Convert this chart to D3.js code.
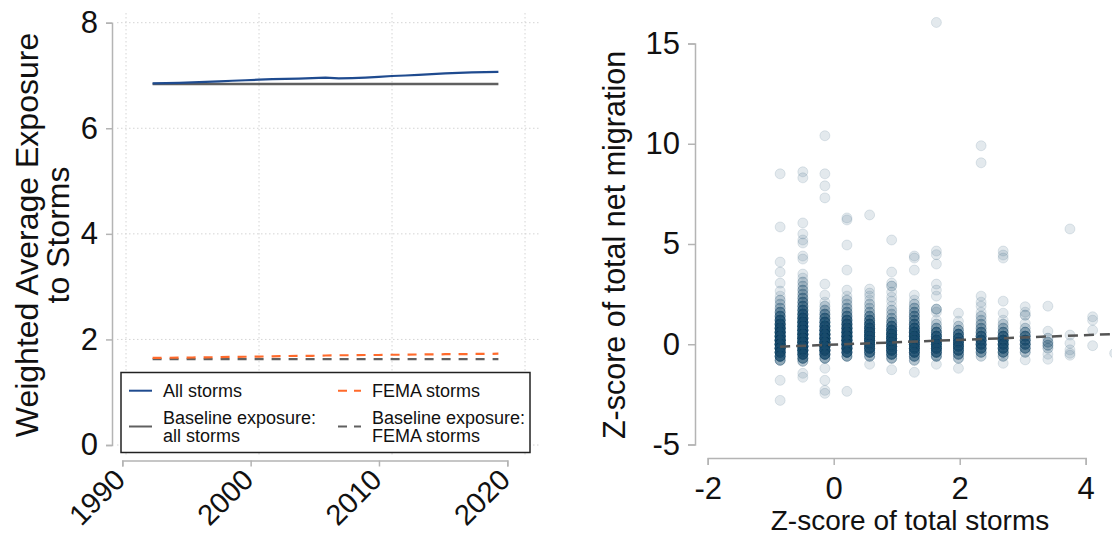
<!DOCTYPE html>
<html>
<head>
<meta charset="utf-8">
<script src="https://cdn.jsdelivr.net/npm/d3@7"></script>
<style>
  html, body { margin: 0; padding: 0; background: #fff; }
  svg { display: block; font-family: "Liberation Sans", Arial, sans-serif; }
</style>
</head>
<body>
<svg id="chart" width="1112" height="535"></svg>
<script>
// ---- left panel data ----
const years = [1992,1993,1994,1995,1996,1997,1998,1999,2000,2001,2002,2003,2004,2005,
               2006,2007,2008,2009,2010,2011,2012,2013,2014,2015,2016,2017,2018];
const allStorms = [6.85,6.855,6.86,6.87,6.88,6.89,6.90,6.91,6.92,6.93,6.935,6.94,6.95,6.96,
                   6.945,6.95,6.96,6.975,6.99,7.00,7.01,7.025,7.04,7.05,7.06,7.065,7.07];
const femaStorms = [1.65,1.652,1.655,1.658,1.66,1.665,1.67,1.672,1.675,1.68,1.685,1.69,1.69,1.695,
                    1.70,1.70,1.705,1.705,1.71,1.71,1.715,1.715,1.72,1.72,1.725,1.725,1.73];
const baseYears = [1992, 2018];
const baselineAll = [6.84, 6.84];
const baselineFema = [1.625, 1.625];
const yTicksLeft = [0, 2, 4, 6, 8];
const xTicksLeft = [1990, 2000, 2010, 2020];

// ---- right panel data: storm z-score columns, [migration z-score, count] ----
const stormZ = [-0.85,-0.49,-0.14,0.21,0.57,0.92,1.28,1.63,1.98,2.34,2.69,3.04,3.40,3.75,4.11,4.46];
const migrationZ = [
  [[8.5,1],[5.85,1],[4.1,1],[3.6,1],[3.05,1],[2.65,1],[2.4,1],[2.2,2],[2.0,2],[1.8,3],[1.6,5],[1.4,7],[1.2,10],[1.0,13],[0.8,16],[0.6,18],[0.4,20],[0.2,22],[0.0,22],[-0.2,20],[-0.4,16],[-0.6,11],[-0.8,5],[-1.8,1],[-2.8,1]],
  [[8.6,1],[8.3,1],[6.05,1],[5.5,1],[5.2,1],[5.05,1],[4.4,1],[4.25,1],[3.5,1],[3.3,1],[3.1,2],[2.9,2],[2.7,3],[2.5,3],[2.3,4],[2.1,5],[1.9,6],[1.7,8],[1.5,10],[1.3,13],[1.1,15],[0.9,17],[0.7,19],[0.5,21],[0.3,22],[0.1,22],[-0.1,21],[-0.3,18],[-0.5,13],[-0.7,7],[-0.85,3],[-1.45,1],[-1.65,1]],
  [[10.4,1],[8.5,1],[7.9,1],[7.3,1],[3.0,1],[2.45,1],[2.1,1],[1.9,2],[1.7,3],[1.5,5],[1.3,7],[1.1,10],[0.9,13],[0.7,16],[0.5,19],[0.3,21],[0.1,22],[-0.1,21],[-0.3,18],[-0.5,12],[-0.7,5],[-1.2,1],[-1.8,1],[-2.3,1],[-2.45,1]],
  [[6.3,1],[6.2,1],[4.95,1],[3.7,1],[2.7,1],[2.4,1],[2.2,2],[2.0,2],[1.8,3],[1.6,4],[1.4,6],[1.2,9],[1.0,12],[0.8,15],[0.6,18],[0.4,20],[0.2,21],[0.0,20],[-0.2,17],[-0.4,12],[-0.6,5],[-2.35,1]],
  [[6.45,1],[2.75,1],[2.55,1],[2.4,1],[2.2,1],[2.0,2],[1.8,2],[1.6,3],[1.4,5],[1.2,7],[1.0,10],[0.8,13],[0.6,15],[0.4,17],[0.2,18],[0.0,17],[-0.2,14],[-0.4,9],[-0.6,4],[-1.0,1]],
  [[5.2,1],[3.6,1],[3.05,1],[2.9,2],[2.6,1],[2.35,1],[2.15,1],[1.9,1],[1.7,2],[1.5,2],[1.3,3],[1.1,5],[0.9,8],[0.7,12],[0.5,15],[0.3,17],[0.1,18],[-0.1,17],[-0.3,14],[-0.5,9],[-0.7,4],[-1.27,1]],
  [[4.4,1],[4.3,1],[3.7,1],[2.45,1],[2.2,1],[2.0,2],[1.8,3],[1.6,4],[1.4,5],[1.2,5],[1.0,7],[0.8,10],[0.6,13],[0.4,16],[0.2,17],[0.0,17],[-0.2,15],[-0.4,11],[-0.6,6],[-0.8,3],[-1.4,1]],
  [[16.05,1],[4.65,1],[4.47,1],[4.0,1],[3.0,1],[2.7,1],[2.4,1],[1.75,3],[1.6,1],[1.2,1],[1.0,2],[0.8,4],[0.6,7],[0.4,11],[0.2,14],[0.0,15],[-0.2,14],[-0.4,10],[-0.6,5],[-1.0,1]],
  [[1.55,1],[1.15,1],[0.9,2],[0.7,4],[0.5,8],[0.3,11],[0.1,13],[-0.1,13],[-0.3,10],[-0.5,6],[-0.7,3],[-1.2,1]],
  [[9.9,1],[9.05,1],[2.4,1],[2.1,1],[1.9,1],[1.6,1],[1.4,2],[1.2,2],[1.0,3],[0.8,4],[0.6,6],[0.4,9],[0.2,11],[0.0,11],[-0.2,9],[-0.4,5],[-0.6,2]],
  [[4.65,1],[4.45,1],[4.3,1],[2.15,1],[1.55,1],[1.2,1],[1.0,2],[0.8,3],[0.6,5],[0.4,9],[0.2,12],[0.0,12],[-0.2,10],[-0.4,7],[-0.6,3],[-0.95,1]],
  [[1.87,1],[1.6,1],[1.45,2],[1.05,1],[0.8,2],[0.6,4],[0.4,7],[0.2,8],[0.0,8],[-0.2,6],[-0.4,3],[-0.78,1]],
  [[1.9,1],[0.65,1],[0.3,2],[0.1,3],[-0.05,3],[-0.2,2],[-0.5,1],[-0.75,1]],
  [[5.75,1],[0.46,1],[0.05,1],[-0.28,1],[-0.45,1],[-0.55,1]],
  [[1.37,1],[1.2,1],[0.7,1],[-0.07,1]],
  [[-0.45,1]]
];
const fitX = [-0.85, 4.46];
const fitY = [-0.12, 0.51];
const yTicksRight = [-5, 0, 5, 10, 15];
const xTicksRight = [-2, 0, 2, 4];

const svg = d3.select("#chart");
const axisColor = "#b4b4b4";
const gridColor = "#d4d4d4";
const font = "Liberation Sans, Arial, sans-serif";
const plain = d => String(d);   // hyphen-minus like the original

// =================== LEFT PANEL ===================
const yL = d3.scaleLinear().domain([0, 8]).range([445, 22.7]);
const xL = d3.scaleLinear().domain([1990, 2020]).range([126, 525]);      // plot region / grid
const xLaxis = d3.scaleLinear().domain([1990, 2020]).range([122.3, 507.3]); // drawn axis

const left = svg.append("g");

// grid
left.append("g").selectAll("line").data(yTicksLeft).join("line")
  .attr("x1", 117).attr("x2", 540)
  .attr("y1", d => yL(d)).attr("y2", d => yL(d))
  .attr("stroke", gridColor).attr("stroke-width", 1).attr("stroke-dasharray", "1.5,2.5");
left.append("g").selectAll("line").data(xTicksLeft).join("line")
  .attr("x1", d => xL(d)).attr("x2", d => xL(d))
  .attr("y1", 13).attr("y2", 456)
  .attr("stroke", gridColor).attr("stroke-width", 1).attr("stroke-dasharray", "1.5,2.5");

// y axis
const yAxisL = left.append("g").attr("transform", "translate(112,0)")
  .call(d3.axisLeft(yL).tickValues(yTicksLeft).tickFormat(plain).tickSize(6).tickPadding(8));
yAxisL.selectAll("text").attr("font-size", 31).attr("fill", "#111").attr("font-family", font);

// x axis (rotated labels)
const xAxisL = left.append("g").attr("transform", "translate(0,460.5)")
  .call(d3.axisBottom(xLaxis).tickValues(xTicksLeft).tickFormat(plain).tickSize(6));
xAxisL.selectAll("text")
  .attr("font-size", 29).attr("fill", "#111").attr("font-family", font)
  .attr("text-anchor", "end")
  .attr("dy", 0).attr("y", 0).attr("x", 0)
  .attr("transform", "translate(4,21) rotate(-45)");

[yAxisL, xAxisL].forEach(a => {
  a.select(".domain").attr("stroke", axisColor).attr("stroke-width", 1.5);
  a.selectAll(".tick line").attr("stroke", axisColor).attr("stroke-width", 1.5);
});

// y title
left.append("text")
  .attr("transform", "translate(38,235) rotate(-90)")
  .attr("text-anchor", "middle").attr("font-size", 32).attr("fill", "#111")
  .text("Weighted Average Exposure");
left.append("text")
  .attr("transform", "translate(69,235) rotate(-90)")
  .attr("text-anchor", "middle").attr("font-size", 32).attr("fill", "#111")
  .text("to Storms");

// lines
const lineL = d3.line().x(d => xL(d[0])).y(d => yL(d[1]));
const series = [
  { x: baseYears, y: baselineAll, color: "#606060", width: 2.6, dash: null },
  { x: baseYears, y: baselineFema, color: "#606060", width: 2.2, dash: "9,8" },
  { x: years, y: femaStorms, color: "#ff6a2b", width: 2.2, dash: "9,8" },
  { x: years, y: allStorms, color: "#1f4b8f", width: 2.2, dash: null }
];
series.forEach(s => {
  left.append("path")
    .datum(s.x.map((v, i) => [v, s.y[i]]))
    .attr("d", lineL)
    .attr("fill", "none")
    .attr("stroke", s.color)
    .attr("stroke-width", s.width)
    .attr("stroke-dasharray", s.dash);
});

// legend
const lg = left.append("g");
lg.append("rect").attr("x", 121).attr("y", 372.5).attr("width", 409).attr("height", 80)
  .attr("fill", "#fff").attr("stroke", "#222").attr("stroke-width", 1.5);
const legendItems = [
  { x: 129, y: 390.7, lines: ["All storms"], color: "#1f4b8f", dash: null },
  { x: 338, y: 390.7, lines: ["FEMA storms"], color: "#ff6a2b", dash: "9,7" },
  { x: 129, y: 426.5, lines: ["Baseline exposure:", "all storms"], color: "#606060", dash: null },
  { x: 338, y: 426.5, lines: ["Baseline exposure:", "FEMA storms"], color: "#606060", dash: "9,7" }
];
legendItems.forEach(it => {
  lg.append("line").attr("x1", it.x).attr("x2", it.x + 23)
    .attr("y1", it.y).attr("y2", it.y)
    .attr("stroke", it.color).attr("stroke-width", 2).attr("stroke-dasharray", it.dash);
  const t = lg.append("text").attr("x", it.x + 34).attr("font-size", 18).attr("fill", "#111");
  it.lines.forEach((l, i) => {
    t.append("tspan").attr("x", it.x + 34)
      .attr("y", it.lines.length === 1 ? it.y + 6.5 : it.y - 2.5 + i * 18)
      .text(l);
  });
});

// =================== RIGHT PANEL ===================
const xR = d3.scaleLinear().domain([-2, 4]).range([707.7, 1085.7]);
const yR = d3.scaleLinear().domain([-5, 15]).range([444.5, 43.5]);
const right = svg.append("g");

const yAxisR = right.append("g").attr("transform", "translate(695,0)")
  .call(d3.axisLeft(yR).tickValues(yTicksRight).tickFormat(plain).tickSize(7).tickPadding(8));
yAxisR.selectAll("text").attr("font-size", 31).attr("fill", "#111").attr("font-family", font);
const xAxisR = right.append("g").attr("transform", "translate(0,458)")
  .call(d3.axisBottom(xR).tickValues(xTicksRight).tickFormat(plain).tickSize(7).tickPadding(12));
xAxisR.selectAll("text").attr("font-size", 31).attr("fill", "#111").attr("font-family", font);
[yAxisR, xAxisR].forEach(a => {
  a.select(".domain").attr("stroke", axisColor).attr("stroke-width", 1.5);
  a.selectAll(".tick line").attr("stroke", axisColor).attr("stroke-width", 1.5);
});

right.append("text")
  .attr("transform", "translate(625,245) rotate(-90)")
  .attr("text-anchor", "middle").attr("font-size", 30.5).attr("fill", "#111")
  .text("Z-score of total net migration");
right.append("text")
  .attr("x", 910).attr("y", 530)
  .attr("text-anchor", "middle").attr("font-size", 28).attr("fill", "#111")
  .text("Z-score of total storms");

// scatter points (count = number of overlapping observations)
const pts = [];
stormZ.forEach((xv, i) => {
  migrationZ[i].forEach(([yv, n]) => {
    for (let k = 0; k < n; k++) pts.push([xv, yv]);
  });
});
right.append("g").selectAll("circle").data(pts).join("circle")
  .attr("cx", d => xR(d[0])).attr("cy", d => yR(d[1])).attr("r", 5)
  .attr("fill", "#1a476f").attr("fill-opacity", 0.12)
  .attr("stroke", "#1a476f").attr("stroke-opacity", 0.12).attr("stroke-width", 1);

// fitted line
right.append("path")
  .datum(fitX.map((v, i) => [v, fitY[i]]))
  .attr("d", d3.line().x(d => xR(d[0])).y(d => yR(d[1])))
  .attr("fill", "none").attr("stroke", "#555").attr("stroke-width", 2.5)
  .attr("stroke-dasharray", "10,6");
</script>
</body>
</html>
